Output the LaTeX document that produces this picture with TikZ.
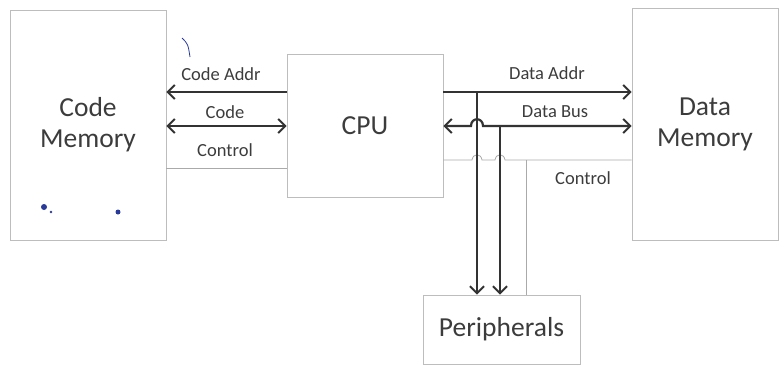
\documentclass[tikz,border=0pt]{standalone}
\usepackage{fontspec}
\setmainfont{Carlito}
\usetikzlibrary{arrows.meta}
\definecolor{ink}{HTML}{333333}
\definecolor{txt}{HTML}{3C3C3C}
\definecolor{boxline}{HTML}{BDBDBD}
\definecolor{ctrl}{HTML}{AAAAAA}
\definecolor{pen}{HTML}{2A3A9A}
\begin{document}
\begin{tikzpicture}[x=1pt,y=-1pt,
  blk/.style={draw=boxline,line width=0.8pt,rectangle,inner sep=0pt,text=txt,
    font=\fontsize{27.5}{31}\selectfont,align=center},
  lbl/.style={text=txt,font=\fontsize{18.5}{21}\selectfont,inner sep=0pt},
  tip/.style={},
  bus/.style={draw=ink,line width=2.2pt,arrows={-Straight Barb[length=7pt,width=14pt,line width=2pt]}},
  bibus/.style={draw=ink,line width=2.2pt,arrows={Straight Barb[length=7pt,width=14pt,line width=2pt]-Straight Barb[length=7pt,width=14pt,line width=2pt]}},
  ctl/.style={draw=ctrl,line width=0.8pt}]
\useasboundingbox (0,0) rectangle (779,367);
% boxes
\node[blk,minimum width=156pt,minimum height=230pt] (cm) at (88,125) {Code\\Memory};
\node[blk,minimum width=156pt,minimum height=143pt] (cpu) at (365,125.5) {CPU};
\node[blk,minimum width=146pt,minimum height=232pt] (dm) at (705,124) {Data\\Memory};
\node[blk,minimum width=157pt,minimum height=69pt] (per) at (501.5,329.5) {Peripherals};
% helper coordinates
\coordinate (yA) at (0,92);
\coordinate (yB) at (0,126);
\coordinate (yCl) at (0,168);
\coordinate (yCr) at (0,160);
\coordinate (xv1) at (477,0);
\coordinate (xv2) at (500,0);
\coordinate (xv3) at (526,0);
% left side
\draw[bus] (cpu.west |- yA) -- (cm.east |- yA);
\draw[bibus] (cm.east |- yB) -- (cpu.west |- yB);
\draw[ctl] (cm.east |- yCl) -- (cpu.west |- yCl);
\node[lbl] (lca) at (221,74) {Code Addr};
\node[lbl] (lc) at (225,112) {Code};
\node[lbl] (lctl) at (225,150) {Control};
% right side
\draw[bus] (cpu.east |- yA) -- (dm.west |- yA);
\draw[bibus]
  (cpu.east |- yB) -- ([xshift=-6pt]xv1 |- yB) .. controls ([xshift=-6pt,yshift=9pt]xv1 |- yB) and ([xshift=6pt,yshift=9pt]xv1 |- yB) .. ([xshift=6pt]xv1 |- yB) -- (dm.west |- yB);
\draw[ctl] (cpu.east |- yCr) -- ([xshift=-5pt]xv1 |- yCr) .. controls ([xshift=-4pt,yshift=7pt]xv1 |- yCr) and ([xshift=4pt,yshift=7pt]xv1 |- yCr) .. ([xshift=5pt]xv1 |- yCr)
  -- ([xshift=-5pt]xv2 |- yCr) .. controls ([xshift=-4pt,yshift=7pt]xv2 |- yCr) and ([xshift=4pt,yshift=7pt]xv2 |- yCr) .. ([xshift=5pt]xv2 |- yCr) -- (dm.west |- yCr);
\draw[ctl] (xv3 |- yCr) -- (xv3 |- per.north);
\draw[bus] (xv1 |- yA) -- (xv1 |- per.north);
\draw[bus] (xv2 |- yB) -- (xv2 |- per.north);
\node[lbl] (lda) at (547,73) {Data Addr};
\node[lbl] (ldb) at (555,112) {Data Bus};
\node[lbl] (lctr) at (583,178) {Control};
% pen marks
\draw[pen,line width=0.8pt] (182,38) .. controls (188,44) .. (190,57);
\fill[pen] (44,207) circle (3pt);
\fill[pen] (51,212) circle (1.4pt);
\fill[pen] (118,212) circle (2.5pt);
\end{tikzpicture}
\end{document}
